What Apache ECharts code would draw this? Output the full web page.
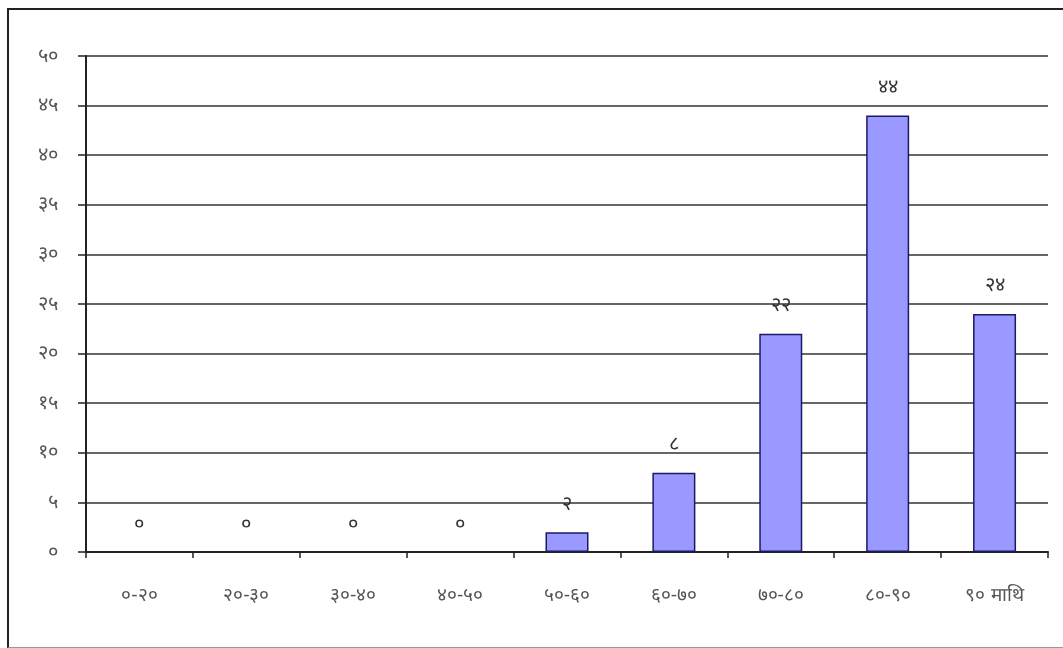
<!DOCTYPE html>
<html>
<head>
<meta charset="utf-8">
<script src="https://cdn.jsdelivr.net/npm/echarts@6/dist/echarts.min.js"></script>
<style>
  html,body{margin:0;padding:0;background:#fff;}
  #frame{position:absolute;left:7px;top:8px;width:1060px;height:637px;border-left:2px solid #222;border-top:2px solid #222;border-bottom:1px solid #999;}
  #main{position:absolute;left:0;top:0;width:1063px;height:648px;}
</style>
</head>
<body>
<div id="frame"></div>
<div id="main"></div>
<script>
// आयु समूह (categories)
var categories = ['०-२०', '२०-३०', '३०-४०', '४०-५०', '५०-६०', '६०-७०', '७०-८०', '८०-९०', '९० माथि'];
// संख्या
var values = [0, 0, 0, 0, 2, 8, 22, 44, 24];
// y axis tick labels (0..50 step 5)
var yTickLabels = ['०', '५', '१०', '१५', '२०', '२५', '३०', '३५', '४०', '४५', '५०'];

var nepDigits = '०१२३४५६७८९';
function toNep(n){
    return String(n).split('').map(function(c){
        var d = parseInt(c, 10);
        return isNaN(d) ? c : nepDigits[d];
    }).join('');
}

var chart = echarts.init(document.getElementById('main'));

var font = 'sans-serif';

//值为0的柱子不画边框
var barData = values.map(function(v){
    return v === 0 ? {value:v, itemStyle:{borderWidth:0}} : v;
});

chart.setOption({
    animation:false,
    grid:{
        left:86,
        right:15,
        top:56,
        bottom:96
    },
    xAxis:{
        type:'category',
        data:categories,
        axisLine:{lineStyle:{color:'#222', width:2}},
        axisTick:{show:true, length:6, lineStyle:{color:'#222', width:1.5}},
        axisLabel:{
            color:'#555',
            fontFamily:font,
            fontSize:19,
            margin:34,
            interval:0
        }
    },
    yAxis:{
        type:'value',
        min:0,
        max:50,
        interval:5,
        axisLine:{show:true, lineStyle:{color:'#222', width:2}},
        axisTick:{show:true, inside:false, length:8, lineStyle:{color:'#222', width:1.5}},
        splitLine:{lineStyle:{color:'#333', width:1.5}},
        axisLabel:{
            color:'#555',
            fontFamily:font,
            fontSize:20,
            margin:28,
            formatter:function(v){ return yTickLabels[Math.round(v/5)]; }
        }
    },
    series:[{
        type:'bar',
        data:barData,
        barWidth:43,
        itemStyle:{
            color:'#9999ff',
            borderColor:'#1a1a66',
            borderWidth:1.5
        },
        label:{
            show:true,
            position:'top',
            distance:18,
            color:'#333',
            fontFamily:font,
            fontSize:20,
            formatter:function(p){ return toNep(p.value); }
        }
    }]
});
</script>
</body>
</html>
